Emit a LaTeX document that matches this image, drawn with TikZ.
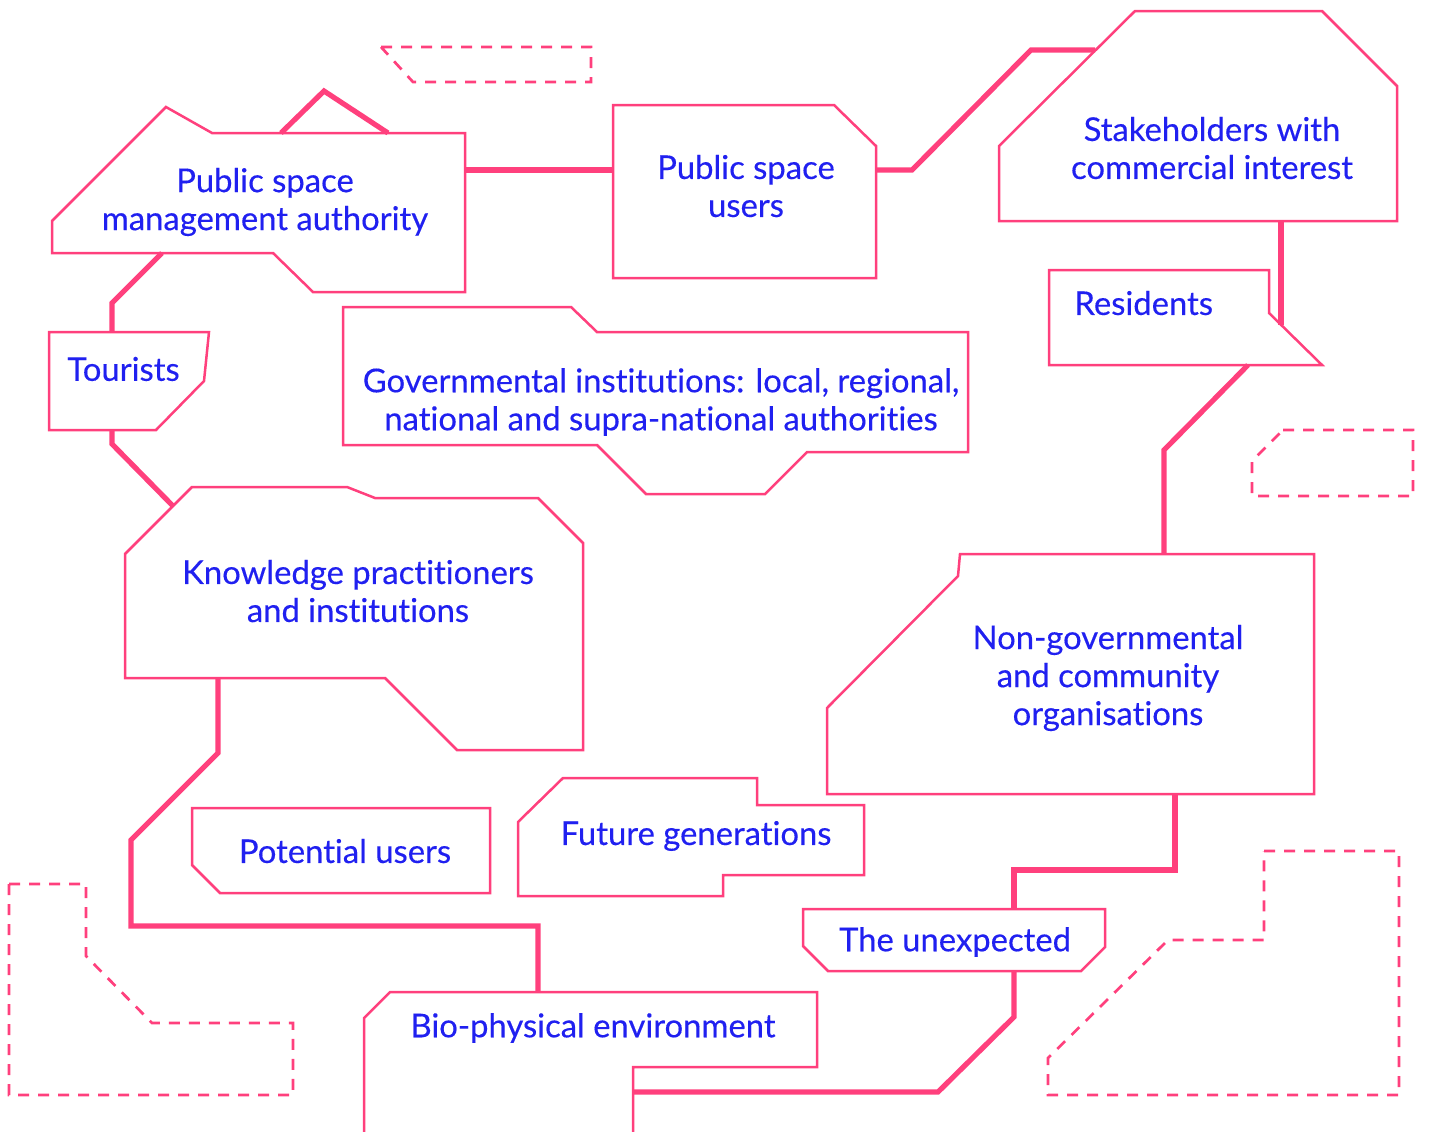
\documentclass[tikz,border=0pt]{standalone}
\usepackage{fontspec}
\setmainfont{Lato}[Ligatures=NoCommon, FakeBold=0.3]
\definecolor{pinkline}{RGB}{255,64,125}
\definecolor{bluetext}{RGB}{32,32,240}
\begin{document}
\begin{tikzpicture}[x=0.5pt,y=-0.5pt,
  box/.style={draw=pinkline, line width=1.25pt, line join=miter},
  link/.style={draw=pinkline, line width=2.6pt, line join=miter},
  ghost/.style={draw=pinkline, line width=1.35pt, dash pattern=on 5.5pt off 4.5pt},
  lbl/.style={text=bluetext, font=\fontsize{16.4}{19}\selectfont, align=center, inner sep=0pt}]
\useasboundingbox (0,0) rectangle (1429,1131);

% named connection points
\coordinate (psma-n1) at (281,133);
\coordinate (psma-n2) at (388,133);
\coordinate (psma-e) at (465,170);
\coordinate (psu-w) at (613,170);
\coordinate (psu-e) at (876,170);
\coordinate (stake-w) at (1095,50);
\coordinate (stake-s) at (1281,221);
\coordinate (res-ne) at (1281,325);
\coordinate (res-s) at (1248,365);
\coordinate (ngo-n) at (1164,554);
\coordinate (psma-s) at (162,253);
\coordinate (tour-n) at (112,332);
\coordinate (tour-s) at (112,430);
\coordinate (know-nw) at (173,506);
\coordinate (know-s) at (218,678);
\coordinate (bio-n) at (538,992);
\coordinate (ngo-s) at (1175,794);
\coordinate (unx-n) at (1014,909);
\coordinate (unx-s) at (1014,971);
\coordinate (bio-e) at (633,1092);

% connectors
\draw[link] (psma-n1) -- (324,91) -- (psma-n2);
\draw[link] (psma-e) -- (psu-w);
\draw[link] (psu-e) -- (912,170) -- (1031,50) -- (stake-w);
\draw[link] (stake-s) -- (res-ne);
\draw[link] (res-s) -- (1164,450) -- (ngo-n);
\draw[link] (psma-s) -- (112,303) -- (tour-n);
\draw[link] (tour-s) -- (112,444) -- (know-nw);
\draw[link] (know-s) -- (218,753) -- (131,840) -- (131,926) -- (538,926) -- (bio-n);
\draw[link] (ngo-s) -- (1175,870) -- (1014,870) -- (unx-n);
\draw[link] (unx-s) -- (1014,1017) -- (938,1092) -- (bio-e);

% shapes
\draw[box] (166,107) -- (212,133) -- (465,133) -- (465,292) -- (313,292) -- (273,253) -- (52,253) -- (52,221) -- cycle;
\draw[box] (613,105) -- (834,105) -- (876,146) -- (876,278) -- (613,278) -- cycle;
\draw[box] (1135,11) -- (1322,11) -- (1397,86) -- (1397,221) -- (999,221) -- (999,146) -- cycle;
\draw[box] (1049,270) -- (1269,270) -- (1269,313) -- (1322,365) -- (1049,365) -- cycle;
\draw[box] (49,332) -- (209,332) -- (204,381) -- (156,430) -- (49,430) -- cycle;
\draw[box] (343,307) -- (571,307) -- (597,332) -- (968,332) -- (968,452) -- (807,452) -- (765,494) -- (646,494) -- (597,445) -- (343,445) -- cycle;
\draw[box] (192,487) -- (347,487) -- (375,498) -- (538,498) -- (583,543) -- (583,750) -- (457,750) -- (385,678) -- (125,678) -- (125,554) -- cycle;
\draw[box] (960,554) -- (1314,554) -- (1314,794) -- (827,794) -- (827,708) -- (958,576) -- cycle;
\draw[box] (192,808) -- (490,808) -- (490,893) -- (220,893) -- (192,865) -- cycle;
\draw[box] (563,778) -- (757,778) -- (757,805) -- (864,805) -- (864,875) -- (723,875) -- (723,896) -- (518,896) -- (518,822) -- cycle;
\draw[box] (803,909) -- (1105,909) -- (1105,947) -- (1081,971) -- (828,971) -- (803,946) -- cycle;
\draw[box] (633,1140) -- (633,1067) -- (817,1067) -- (817,992) -- (390,992) -- (364,1018) -- (364,1140);

% dashed ghosts
\draw[ghost] (381,47) -- (591,47) -- (591,82) -- (413,82) -- cycle;
\draw[ghost] (1283,430) -- (1413,430) -- (1413,496) -- (1252,496) -- (1252,461) -- cycle;
\draw[ghost] (9,884) -- (86,884) -- (86,956) -- (152,1023) -- (293,1023) -- (293,1095) -- (9,1095) -- cycle;
\draw[ghost] (1264,851) -- (1399,851) -- (1399,1095) -- (1048,1095) -- (1048,1058) -- (1168,940) -- (1264,940) -- cycle;

% labels
\node[lbl] (psma) at (265,202) {Public space\\management authority};
\node[lbl] (psu) at (746,186) {Public space\\users};
\node[lbl] (stake) at (1212,148) {Stakeholders with\\commercial interest};
\node[lbl, anchor=west] (res) at (1074,303) {Residents};
\node[lbl, anchor=west] (tour) at (67,369) {Tourists};
\node[lbl] (gov) at (661,402) {Governmental institutions: local, regional,\\national and supra-national authorities};
\node[lbl] (know) at (358,591) {Knowledge practitioners\\and institutions};
\node[lbl] (ngo) at (1108,678) {Non-governmental\\and community\\organisations};
\node[lbl] (pot) at (345,851) {Potential users};
\node[lbl] (fut) at (696,836) {Future generations};
\node[lbl] (unx) at (955,942) {The unexpected};
\node[lbl] (bio) at (593,1028) {Bio-physical environment};
\end{tikzpicture}
\end{document}
